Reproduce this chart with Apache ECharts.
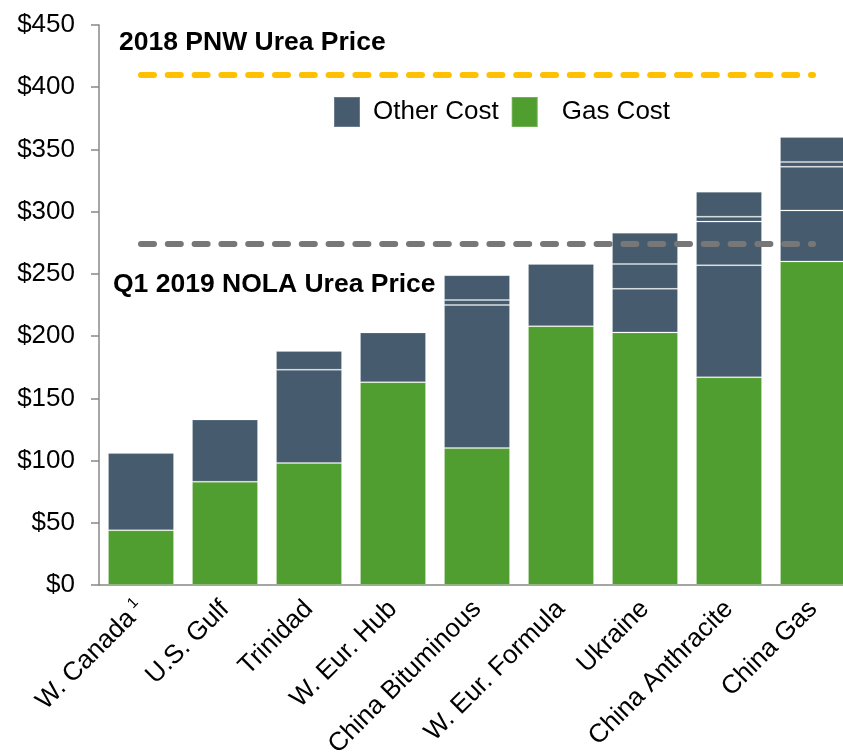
<!DOCTYPE html>
<html>
<head>
<meta charset="utf-8">
<script src="https://cdn.jsdelivr.net/npm/echarts@6/dist/echarts.min.js"></script>
<style>
  html, body { margin: 0; padding: 0; background: #fff; overflow: hidden; }
  /* a bit wider than the window: the last bar runs off the right edge */
  #chart { width: 855px; height: 755px; }
</style>
</head>
<body>
<div id="chart"></div>
<script>
// categories and costs ($/st)
const categories = ["W. Canada", "U.S. Gulf", "Trinidad", "W. Eur. Hub", "China Bituminous",
  "W. Eur. Formula", "Ukraine", "China Anthracite", "China Gas"];
const gasCost = [44, 83, 98, 163, 110, 208, 203, 167, 260];
// other cost is drawn as stacked pieces (thin lines inside the dark bars)
const otherCostA = [62, 50, 75, 40, 115, 50, 35, 90, 41];
const otherCostB = [null, null, 15, null, 4, null, 20, 35, 35];
const otherCostC = [null, null, null, null, 20, null, 25, 4, 4];
const otherCostD = [null, null, null, null, null, null, null, 20, 20];
const pnwPrice = 410;
const nolaPrice = 274;
const yTicks = [0, 450, 50]; // min, max, interval

const FONT = "'Liberation Sans', Arial, sans-serif";
const GREEN = "#509E2F";
const SLATE = "#465B6E";
const EDGE = "rgba(255,255,255,0.2)";

const chart = echarts.init(document.getElementById("chart"));

// one piece of the dark "Other Cost" bar
const otherPiece = (data) => ({
  name: "Other Cost",
  type: "bar",
  stack: "cost",
  barWidth: 66,
  data: data,
  itemStyle: { color: SLATE, borderColor: EDGE, borderWidth: 1 },
});

// dashed price line across the bars
const priceLine = (value, color) => ({
  silent: true,
  symbol: "none",
  label: { show: false },
  lineStyle: { color: color, width: 6, type: [13, 13.8], cap: "round" },
  data: [[
    { coord: [0, value] },
    { coord: [categories.length - 1, value] },
  ]],
});

const option = {
  animation: false,
  backgroundColor: "#fff",
  textStyle: { fontFamily: FONT },
  grid: { left: 99, top: 25, bottom: 170, right: 0, containLabel: false, outerBoundsMode: "none" },
  legend: {
    data: ["Other Cost", "Gas Cost"],
    left: 328,
    top: 91,
    itemWidth: 26,
    itemHeight: 30,
    itemGap: 12,
    icon: "rect",
    formatter: (name) => (name === "Gas Cost" ? "{g|" + name + "}" : "{o|" + name + "}"),
    textStyle: {
      fontFamily: FONT,
      fontSize: 26,
      color: "#000",
      rich: {
        o: { fontFamily: FONT, fontSize: 26, color: "#000", padding: [0, 0, 0, 8] },
        g: { fontFamily: FONT, fontSize: 26, color: "#000", padding: [0, 0, 0, 19] },
      },
    },
  },
  xAxis: {
    type: "category",
    data: categories,
    axisLine: { lineStyle: { color: "#888", width: 1.5 } },
    axisTick: { show: false },
    axisLabel: {
      interval: 0,
      rotate: 45,
      margin: 20,
      fontFamily: FONT,
      fontSize: 26,
      color: "#000",
      formatter: (v) => (v === "W. Canada" ? v + "{sup|1}" : v),
      rich: {
        sup: { fontFamily: FONT, fontSize: 15, color: "#000", padding: [0, 0, 14, 5] },
      },
    },
  },
  yAxis: {
    type: "value",
    min: yTicks[0],
    max: yTicks[1],
    interval: yTicks[2],
    splitLine: { show: false },
    axisLine: { show: true, lineStyle: { color: "#888", width: 1.5 } },
    axisTick: { show: true, length: 8, lineStyle: { color: "#888", width: 1.5 } },
    axisLabel: {
      margin: 24,
      fontFamily: FONT,
      fontSize: 26,
      color: "#000",
      formatter: (v) => "$" + v,
    },
  },
  series: [
    {
      name: "Gas Cost",
      type: "bar",
      stack: "cost",
      barWidth: 66,
      data: gasCost,
      itemStyle: { color: GREEN, borderColor: EDGE, borderWidth: 1 },
      markLine: priceLine(nolaPrice, "#777777"),
    },
    otherPiece(otherCostA),
    otherPiece(otherCostB),
    otherPiece(otherCostC),
    Object.assign(otherPiece(otherCostD), { markLine: priceLine(pnwPrice, "#FFC000") }),
  ],
  graphic: [
    {
      type: "text",
      left: 119,
      top: 29,
      style: { text: "2018 PNW Urea Price", font: "bold 26.5px " + FONT, fill: "#000" },
    },
    {
      type: "text",
      left: 113,
      top: 271,
      style: { text: "Q1 2019 NOLA Urea Price", font: "bold 26.5px " + FONT, fill: "#000" },
    },
  ],
};

chart.setOption(option);
</script>
</body>
</html>
